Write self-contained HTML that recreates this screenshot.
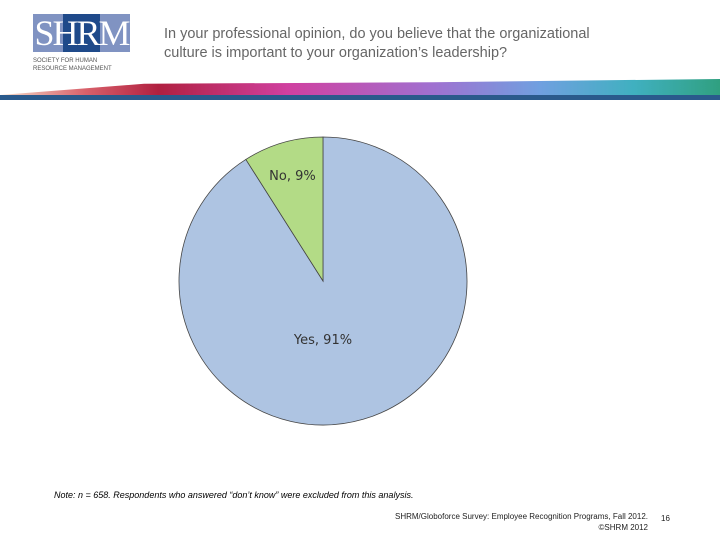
<!DOCTYPE html>
<html><head><meta charset="utf-8"><style>
body{margin:0;width:720px;height:540px;background:#fff;position:relative;overflow:hidden;font-family:"Liberation Sans",sans-serif}
.abs{position:absolute}
</style></head><body>
<div class="abs" style="left:33px;top:14px;width:97px;height:60px">
 <div class="abs" style="left:0;top:0;width:97px;height:38px;background:#8093c2"></div>
 <div class="abs" style="left:30px;top:0;width:37px;height:38px;background:#1f4a8a"></div>
 <div class="abs" style="left:0;top:-1px;width:97px;text-align:center;color:#fff;font-family:'Liberation Serif',serif;font-size:36px;letter-spacing:-2px;line-height:40px">SHRM</div>
 <div class="abs" style="left:0;top:43px;font-size:6px;color:#555;line-height:8px;white-space:nowrap">SOCIETY FOR HUMAN<br>RESOURCE MANAGEMENT</div>
</div>
<div class="abs" style="left:164px;top:25px;font-size:14.5px;color:#666;line-height:19px">In your professional opinion, do you believe that the organizational<br>culture is important to your organization’s leadership?</div>
<div class="abs" style="left:0;top:79px;width:720px;height:16px;background:linear-gradient(90deg,#f4dcc8 0%,#d8606a 12%,#b02040 22%,#d040a0 40%,#a070d0 60%,#70a0e0 75%,#40b0c0 88%,#30a080 100%);clip-path:polygon(0 100%,20% 30%,60% 20%,100% 0,100% 100%)"></div>
<div class="abs" style="left:0;top:95px;width:720px;height:5px;background:#2a5a8c"></div>
<svg class="abs" style="left:0;top:0" width="720" height="540">
<g id="pie"></g>
</svg>
<div class="abs" style="left:54px;top:490px;font-size:9px;font-style:italic;color:#000">Note: n = 658. Respondents who answered “don’t know” were excluded from this analysis.</div>
<div class="abs" style="left:300px;top:511px;width:348px;text-align:right;font-size:8px;color:#222;line-height:11px">SHRM/Globoforce Survey: Employee Recognition Programs, Fall 2012.<br>©SHRM 2012</div>
<div class="abs" style="left:661px;top:514px;font-size:8px;color:#222">16</div>
<script>
const categories=["Yes","No"];
const values=[91,9];
const labels=["Yes, 91%","No, 9%"];
const colors=["#aec4e2","#b3db86"];
const cx=323,cy=281,r=144;
const g=document.getElementById('pie');
const ns='http://www.w3.org/2000/svg';
const total=values.reduce((a,b)=>a+b,0);
let a0=0;
const pt=(a,rr)=>[cx+rr*Math.sin(a),cy-rr*Math.cos(a)];
values.forEach((v,i)=>{
 const a1=a0+v/total*2*Math.PI;
 const [x0,y0]=pt(a0,r),[x1,y1]=pt(a1,r);
 const p=document.createElementNS(ns,'path');
 p.setAttribute('d',`M${cx},${cy}L${x0},${y0}A${r},${r} 0 ${a1-a0>Math.PI?1:0} 1 ${x1},${y1}Z`);
 p.setAttribute('fill',colors[i]);p.setAttribute('stroke','#444');p.setAttribute('stroke-width','0.8');
 
 
 g.appendChild(p);
 const mid=i===0?Math.PI:(a0+a1)/2;
 const lr=i===0?0.41*r:0.76*r;
 const [lx,ly]=pt(mid,lr);
 const t=document.createElementNS(ns,'text');
 t.setAttribute('x',lx);t.setAttribute('y',ly+4);t.setAttribute('text-anchor','middle');
 t.setAttribute('font-size','13');t.setAttribute('fill','#333');t.setAttribute('font-family','DejaVu Sans,sans-serif');
 t.textContent=labels[i];
 
 
 g.appendChild(t);
 a0=a1;
});
</script>
</body></html>
